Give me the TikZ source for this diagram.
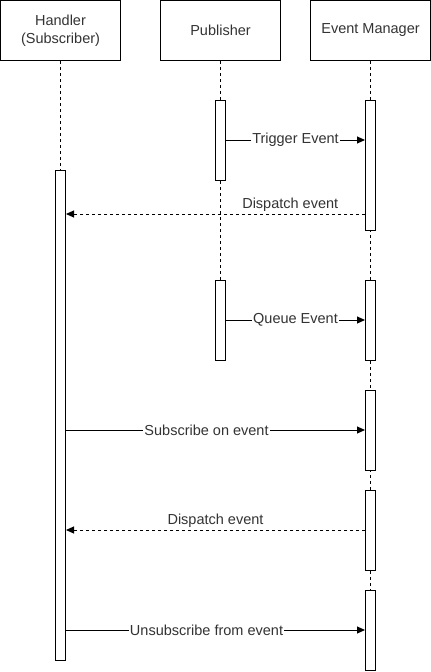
\documentclass[tikz,border=0pt]{standalone}
\usepackage{fontspec}
\setmainfont{Liberation Sans}
\usetikzlibrary{arrows.meta}
\tikzset{>={Triangle[length=8pt,width=7pt]}}

\begin{document}
\begin{tikzpicture}[x=1pt,y=-1pt,line width=1pt,
    actor/.style={draw,minimum width=120pt,minimum height=60pt,align=center,
      text=black!80,font=\fontsize{14.5}{18}\selectfont},
    bar/.style={draw,fill=white,minimum width=10pt,inner sep=0pt},
    life/.style={dash pattern=on 3pt off 3pt},
    lbl/.style={fill=white,inner sep=1pt,text=black!80,font=\fontsize{14.5}{18}\selectfont}]
    \useasboundingbox (0,0) rectangle (431,672);
      % actors
      \node[actor] at (60.5,30.5)  (hnd) {Handler\\(Subscriber)};
      \node[actor] at (220.5,30.5) (pub) {Publisher};
      \node[actor] at (370.5,30.5) (mgr) {Event Manager};
      % lifelines
      \coordinate (hndEnd) at (60.5,170);
      \coordinate (pubEnd) at (220.5,280);
      \coordinate (mgrEnd) at (370.5,590);
      \draw[life] (hnd.south)--(hndEnd);
      \draw[life] (pub.south)--(pubEnd);
      \draw[life] (mgr.south)--(mgrEnd);
      % activations
      \node[bar,minimum height=490pt] at (60.5,415)  (hA) {};
      \node[bar,minimum height=80pt]  at (220.5,140) (pA) {};
      \node[bar,minimum height=80pt]  at (220.5,320) (pB) {};
      \node[bar,minimum height=130pt] at (370.5,165) (mA) {};
      \node[bar,minimum height=80pt]  at (370.5,320) (mB) {};
      \node[bar,minimum height=80pt]  at (370.5,430) (mC) {};
      \node[bar,minimum height=80pt]  at (370.5,530) (mD) {};
      \node[bar,minimum height=80pt]  at (370.5,630) (mE) {};
      % messages
      \draw[->] (pA.east)--node[lbl]{Trigger Event}(pA.east -| mA.west);
      \draw[->,life] (mA.west |- 0,214)--node[lbl,above=1pt,pos=0.25]{Dispatch event}(hA.east |- 0,214);
      \draw[->] (pB.east)--node[lbl]{Queue Event}(mB.west);
      \draw[->] (hA.east |- mC.west)--node[lbl,pos=0.47]{Subscribe on event}(mC.west);
      \draw[->,life] (mD.west)--node[lbl,above=1pt]{Dispatch event}(mD.west -| hA.east);
      \draw[->] (hA.east |- mE.west)--node[lbl,pos=0.47]{Unsubscribe from event}(mE.west);
    \end{tikzpicture}
\end{document}
